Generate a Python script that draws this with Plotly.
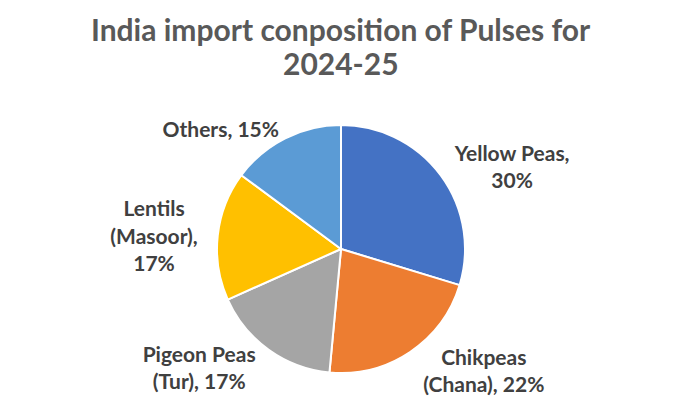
import plotly.graph_objects as go

categories = ["Yellow Peas", "Chikpeas (Chana)", "Pigeon Peas (Tur)", "Lentils (Masoor)", "Others"]
values = [30, 22, 17, 17, 15]
label_text = ["Yellow Peas,<br>30%", "Chikpeas<br>(Chana), 22%", "Pigeon Peas<br>(Tur), 17%",
              "Lentils<br>(Masoor),<br>17%", "Others, 15%"]
colors = ["#4472C4", "#ED7D31", "#A5A5A5", "#FFC000", "#5B9BD5"]
title_lines = ["India import conposition of Pulses for", "2024-25"]

FONT = "Lato"

fig = go.Figure(go.Pie(
    labels=categories,
    values=values,
    text=label_text,
    texttemplate="%{text}",
    textinfo="text",
    textposition="outside",
    sort=False,
    direction="clockwise",
    rotation=0,
    marker=dict(colors=colors, line=dict(color="white", width=2)),
    outsidetextfont=dict(family=FONT, size=21, color="#404040", weight="bold"),
    showlegend=False,
    automargin=False,
    hoverinfo="label+value",
))

# title lines placed in pixel space above the pie (plot area: 117px top, 248px tall)
title_centers_px = [21, 55]
fig.update_layout(
    width=682, height=409,
    margin=dict(l=0, r=16, t=117, b=44),
    paper_bgcolor="white", plot_bgcolor="white",
    annotations=[dict(text=t, xref="paper", yref="paper", x=0.5, xanchor="center",
                      y=(365 - py) / 248, yanchor="middle", showarrow=False,
                      font=dict(family=FONT, size=30, color="#595959", weight="bold"))
                 for t, py in zip(title_lines, title_centers_px)],
)

fig.write_html("out.html")
